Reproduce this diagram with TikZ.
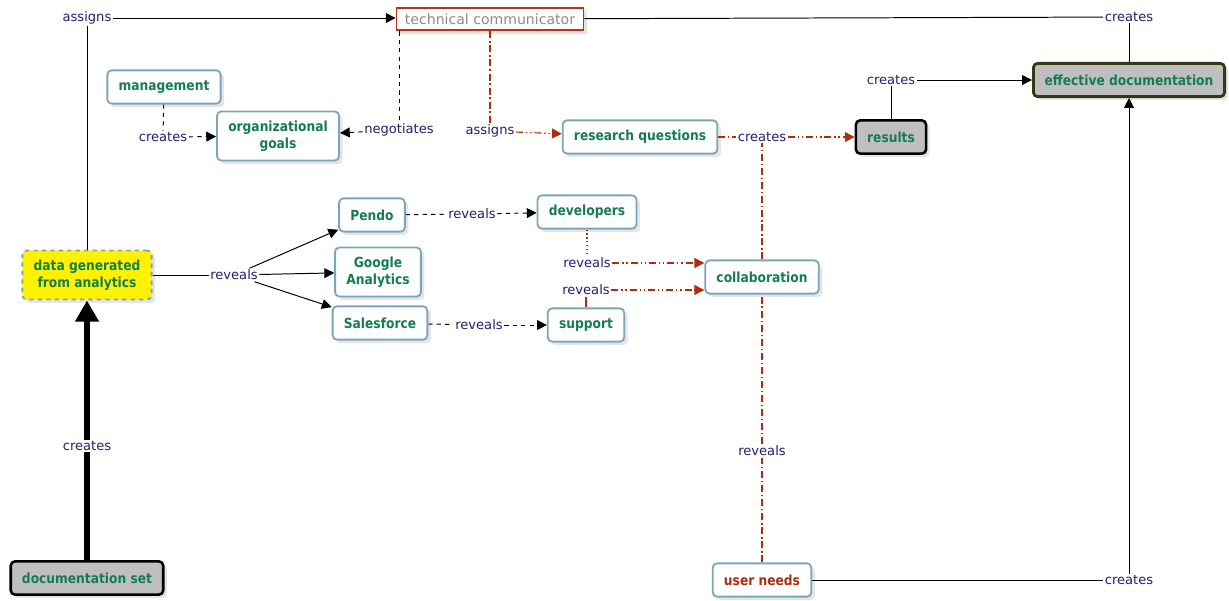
\documentclass[tikz,border=0pt]{standalone}
\usepackage{fontspec}
\setmainfont{DejaVu Sans}
\newfontfamily\conceptfamily{DejaVu Sans}[FakeStretch=0.88]
\usetikzlibrary{arrows.meta,shadows}
\definecolor{nodegreen}{RGB}{20,125,80}
\definecolor{linkblue}{RGB}{40,30,110}
\definecolor{boxblue}{RGB}{125,165,185}
\definecolor{redline}{RGB}{175,45,15}
\definecolor{tcred}{RGB}{185,50,30}
\definecolor{darkolive}{RGB}{55,55,20}
\tikzset{
  conceptnode/.style = {rectangle, rounded corners=3pt, draw=boxblue, line width=1.3pt,
    fill=white, text=nodegreen, align=center, inner xsep=8pt, inner ysep=6.5pt,
    minimum height=0.83cm,
    font=\conceptfamily\bfseries\fontsize{9.9}{12.2}\selectfont,
    drop shadow={shadow xshift=2.5pt, shadow yshift=-2.5pt, fill=black!20}},
  keynode/.style = {conceptnode, fill=black!25, draw=black, line width=1.8pt},
  linknode/.style = {fill=white, text=linkblue, inner sep=1pt,
    font=\fontsize{9.3}{11}\selectfont},
  plainlink/.style = {draw=black, line width=0.7pt},
  dashlink/.style = {plainlink, dashed},
  redlink/.style = {draw=redline, line width=0.8pt, dash pattern=on 5pt off 2pt on 1pt off 2pt},
  reddlink/.style = {draw=redline, line width=0.8pt,
    dash pattern=on 5pt off 2pt on 1pt off 2pt on 1pt off 2pt},
}

\begin{document}
\begin{tikzpicture}[x=0.025cm, y=-0.025cm, >={Triangle[length=7pt,width=7pt]}]
  \useasboundingbox (0,0) rectangle (1229,600);

  % concepts
  \node [conceptnode, draw=tcred, rounded corners=0pt, text=black!45, minimum height=0.57cm,
    font=\fontsize{10}{12}\selectfont, inner xsep=6pt, inner ysep=3pt] (tc) at (490,19) {technical communicator};
  \node [conceptnode] (mgmt) at (164,87) {management};
  \node [conceptnode] (goals) at (278,136) {organizational\\goals};
  \node [conceptnode] (rq) at (640,137) {research questions};
  \node [keynode] (results) at (891,137) {results};
  \node [keynode, draw=darkolive, line width=2pt] (effdoc) at (1129,80) {effective documentation};
  \node [conceptnode, fill=yellow, dashed] (data) at (87,275) {data generated\\from analytics};
  \node [conceptnode] (pendo) at (372,215) {Pendo};
  \node [conceptnode] (ga) at (378,272) {Google\\Analytics};
  \node [conceptnode] (sf) at (380,323) {Salesforce};
  \node [conceptnode] (dev) at (587,212) {developers};
  \node [conceptnode] (collab) at (762,277) {collaboration};
  \node [conceptnode] (support) at (586,325) {support};
  \node [keynode] (docset) at (87,578) {documentation set};
  \node [conceptnode, text=redline] (needs) at (762,580) {user needs};

  % linking phrases
  \node [linknode] (asg1) at (87,18) {assigns};
  \node [linknode] (crt1) at (1129,17) {creates};
  \node [linknode] (crt2) at (891,80) {creates};
  \node [linknode] (crt3) at (163,137) {creates};
  \node [linknode] (neg) at (399,130) {negotiates};
  \node [linknode] (asg2) at (490,131) {assigns};
  \node [linknode] (crt4) at (762,137) {creates};
  \node [linknode] (rev1) at (234,275) {reveals};
  \node [linknode] (rev2) at (472,214) {reveals};
  \node [linknode] (rev3) at (479,325) {reveals};
  \node [linknode] (rev4) at (587,263) {reveals};
  \node [linknode] (rev5) at (586,290) {reveals};
  \node [linknode] (rev6) at (762,451) {reveals};
  \node [linknode] (crt5) at (87,446) {creates};
  \node [linknode] (crt6) at (1129,580) {creates};

  % black links
  \draw [plainlink] (data) -- (asg1);
  \draw [plainlink, ->] (asg1) -- (asg1 -| tc.west);
  \draw [plainlink] (tc) -- (crt1);
  \draw [plainlink] (crt1) -- (effdoc);
  \draw [plainlink] (results) -- (crt2);
  \draw [plainlink, ->] (crt2) -- (effdoc);
  \draw [dashlink] (mgmt) -- (crt3);
  \draw [dashlink, ->] (crt3) -- (goals);
  \draw [dashlink] (tc.south -| neg) -- (neg);
  \draw [dashlink, ->] (neg) -- (goals);
  \draw [plainlink] (data) -- (rev1);
  \draw [plainlink, ->] (rev1) -- (pendo);
  \draw [plainlink, ->] (rev1) -- (ga);
  \draw [plainlink, ->] (rev1) -- (sf);
  \draw [dashlink] (pendo) -- (rev2);
  \draw [dashlink, ->] (rev2) -- (dev);
  \draw [dashlink] (sf) -- (rev3);
  \draw [dashlink, ->] (rev3) -- (support);
  \draw [plainlink, line width=4.5pt] (docset) -- (crt5);
  \draw [plainlink, line width=4.5pt, -{Triangle[length=15pt,width=16pt]}] (crt5) -- (data);
  \draw [plainlink] (needs) -- (crt6);
  \draw [plainlink, ->] (crt6) -- (effdoc);

  % red links
  \draw [redlink] (tc) -- (asg2);
  \draw [reddlink, ->] (asg2) -- (rq);
  \draw [redlink] (rq) -- (crt4);
  \draw [reddlink, ->] (crt4) -- (results);
  \draw [redlink] (collab) -- (crt4);
  \draw [redlink] (needs) -- (rev6);
  \draw [redlink] (rev6) -- (collab);
  \draw [draw=redline, line width=0.8pt, dotted] (dev) -- (rev4);
  \draw [reddlink, ->] (rev4) -- (rev4 -| collab.west);
  \draw [draw=redline, line width=0.8pt] (support) -- (rev5);
  \draw [reddlink, ->] (rev5) -- (rev5 -| collab.west);
\end{tikzpicture}
\end{document}
